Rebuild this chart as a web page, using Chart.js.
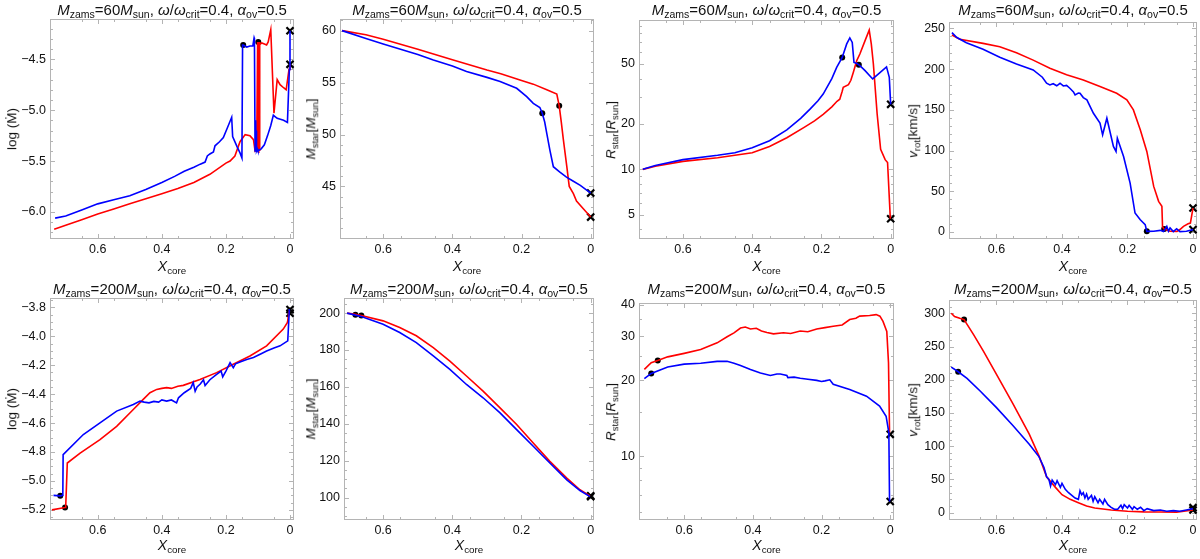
<!DOCTYPE html>
<html>
<head>
<meta charset="utf-8">
<script src="https://cdn.jsdelivr.net/npm/chart.js@4.4.1/dist/chart.umd.min.js"></script>
<style>
  body { margin: 0; background: #fff; width: 1200px; height: 559px; overflow: hidden; position: relative;
         font-family: 'Liberation Sans', Arial, sans-serif; color: #111; }
  .cell { position: absolute; width: 300px; }
  .lab { position: absolute; white-space: nowrap; line-height: 1; }
  .title { font-size: 15px; transform: translateX(-50%); }
  .ylab { font-size: 13.5px; transform: translate(-50%, -50%) rotate(-90deg); }
  .xlab { font-size: 14px; transform: translateX(-50%); }
  sub { font-size: 70%; vertical-align: -0.3em; line-height: 0; }
</style>
</head>
<body>
<script>
// tick labels
const xTickValues = [0, 0.2, 0.4, 0.6];
const mdot60Ticks = [-6.0, -5.5, -5.0, -4.5];
const mstar60Ticks = [45, 50, 55, 60];
const rstar60Ticks = [5, 10, 20, 50];
const vrot60Ticks = [0, 50, 100, 150, 200, 250];
const mdot200Ticks = [-5.2, -5.0, -4.8, -4.6, -4.4, -4.2, -4.0, -3.8];
const mstar200Ticks = [100, 120, 140, 160, 180, 200];
const rstar200Ticks = [10, 20, 30, 40];
const vrot200Ticks = [0, 50, 100, 150, 200, 250, 300];

// ---- 60 Msun : log Mdot ----
const mdot60BlueX = [0.733, 0.70, 0.65, 0.60, 0.55, 0.50, 0.45, 0.40, 0.36, 0.33, 0.30, 0.28, 0.265, 0.258, 0.25, 0.239, 0.234, 0.22, 0.208, 0.195, 0.182, 0.179, 0.165, 0.156, 0.150, 0.148, 0.146, 0.135, 0.125, 0.116, 0.112, 0.111, 0.109, 0.107, 0.106, 0.105, 0.104, 0.102, 0.100, 0.090, 0.080, 0.070, 0.060, 0.052, 0.040, 0.030, 0.020, 0.008, 0.002, 0.0];
const mdot60BlueY = [-6.06, -6.04, -5.98, -5.92, -5.88, -5.84, -5.78, -5.71, -5.65, -5.60, -5.56, -5.53, -5.51, -5.45, -5.43, -5.41, -5.35, -5.31, -5.27, -5.17, -5.07, -5.26, -5.36, -5.42, -5.47, -4.36, -4.36, -4.38, -4.37, -4.37, -4.29, -4.30, -5.40, -5.10, -5.40, -5.20, -5.40, -5.38, -5.40, -5.38, -5.34, -5.25, -5.15, -5.05, -5.08, -5.09, -5.10, -5.12, -4.60, -4.22];
const mdot60RedX = [0.736, 0.70, 0.65, 0.60, 0.55, 0.50, 0.45, 0.40, 0.35, 0.30, 0.25, 0.20, 0.187, 0.172, 0.156, 0.140, 0.125, 0.114, 0.109, 0.104, 0.101, 0.100, 0.099, 0.098, 0.097, 0.096, 0.095, 0.094, 0.092, 0.088, 0.080, 0.073, 0.068, 0.060, 0.050, 0.040, 0.031, 0.020, 0.012, 0.003, 0.0];
const mdot60RedY = [-6.17, -6.13, -6.075, -6.02, -5.97, -5.92, -5.87, -5.82, -5.77, -5.71, -5.63, -5.52, -5.50, -5.45, -5.31, -5.24, -5.25, -5.29, -5.40, -5.38, -4.33, -5.40, -4.35, -4.34, -5.42, -4.33, -5.40, -4.35, -4.35, -4.34, -4.35, -4.36, -4.33, -4.21, -5.03, -4.70, -4.75, -4.78, -4.80, -4.60, -4.55];
const mdot60DotX = [0.146, 0.099];
const mdot60DotY = [-4.36, -4.33];
const mdot60EndY = [-4.22, -4.55];

// ---- 60 Msun : M_star ----
const mstar60BlueX = [0.719, 0.65, 0.60, 0.50, 0.455, 0.40, 0.359, 0.30, 0.262, 0.214, 0.185, 0.166, 0.147, 0.140, 0.133, 0.127, 0.118, 0.108, 0.09, 0.07, 0.05, 0.03, 0.0];
const mstar60BlueY = [60, 59.25, 58.72, 57.7, 57.18, 56.6, 56.06, 55.5, 55.1, 54.45, 53.65, 53.0, 52.6, 52.05, 51.2, 50.1, 48.5, 46.9, 46.4, 45.9, 45.5, 45.1, 44.36];
const mstar60RedX = [0.719, 0.65, 0.60, 0.50, 0.40, 0.30, 0.26, 0.20, 0.166, 0.127, 0.098, 0.091, 0.085, 0.079, 0.074, 0.069, 0.065, 0.062, 0.05, 0.041, 0.02, 0.0];
const mstar60RedY = [60, 59.6, 59.17, 58.2, 57.2, 56.2, 55.85, 55.2, 54.85, 54.3, 53.9, 52.76, 51.2, 49.5, 48.2, 46.9, 45.8, 45.0, 44.3, 43.6, 42.8, 42.05];
const mstar60DotX = [0.140, 0.091];
const mstar60DotY = [52.05, 52.76];
const mstar60EndY = [44.36, 42.05];

// ---- 60 Msun : R_star ----
const rstar60BlueX = [0.716, 0.68, 0.60, 0.50, 0.45, 0.40, 0.35, 0.30, 0.26, 0.233, 0.21, 0.195, 0.17, 0.156, 0.140, 0.127, 0.118, 0.111, 0.106, 0.098, 0.089, 0.074, 0.052, 0.036, 0.012, 0.004, 0.0];
const rstar60BlueY = [10, 10.6, 11.6, 12.4, 12.9, 13.9, 15.5, 18.3, 21.8, 25.1, 28.5, 31.6, 40, 47.5, 55.3, 68, 74.6, 69.6, 51.3, 50.5, 48.8, 45.2, 39.8, 42.9, 47.9, 40.8, 27];
const rstar60RedX = [0.716, 0.68, 0.60, 0.50, 0.40, 0.35, 0.30, 0.25, 0.22, 0.195, 0.17, 0.155, 0.147, 0.140, 0.137, 0.122, 0.115, 0.108, 0.098, 0.089, 0.074, 0.062, 0.056, 0.050, 0.039, 0.029, 0.016, 0.009, 0.001];
const rstar60RedY = [10, 10.5, 11.3, 11.95, 12.9, 14.2, 16.2, 19.0, 21.0, 23.2, 26.0, 28.3, 29.2, 33, 35.0, 36.5, 39, 44.0, 52.7, 58.3, 71.5, 84, 68, 50, 23.2, 13.6, 11.6, 11.1, 4.7];
const rstar60DotX = [0.140, 0.092];
const rstar60DotY = [55.3, 49.5];
const rstar60EndY = [27, 4.7];

// ---- 60 Msun : v_rot ----
const vrot60BlueX = [0.736, 0.722, 0.692, 0.641, 0.590, 0.539, 0.488, 0.46, 0.447, 0.437, 0.427, 0.416, 0.406, 0.396, 0.386, 0.376, 0.365, 0.360, 0.350, 0.345, 0.335, 0.324, 0.304, 0.284, 0.276, 0.263, 0.243, 0.235, 0.231, 0.212, 0.192, 0.177, 0.161, 0.146, 0.141, 0.12, 0.10, 0.09, 0.08, 0.075, 0.07, 0.06, 0.05, 0.04, 0.02, 0.0];
const vrot60BlueY = [244.7, 239, 232.4, 224.3, 214.5, 206.3, 199, 190, 182.6, 180.5, 182, 179.5, 182.6, 179.3, 180, 176.5, 172, 168.3, 170.5, 170.3, 165, 162.2, 145.8, 133.6, 119.3, 139.7, 105, 98.9, 115.2, 92.7, 60, 23.3, 15.1, 9, 0.8, 1, 2, 0.5, 7, 1, 5, 0.5, 4, 0.5, 1, 2.9];
const vrot60RedX = [0.736, 0.712, 0.641, 0.590, 0.539, 0.488, 0.437, 0.386, 0.335, 0.284, 0.233, 0.202, 0.182, 0.161, 0.141, 0.12, 0.105, 0.095, 0.093, 0.088, 0.07, 0.049, 0.04, 0.029, 0.015, 0.008, 0.0];
const vrot60RedY = [241.8, 236.5, 231.6, 227.5, 220, 211, 201, 193, 186.7, 178.5, 170.3, 162.2, 149.9, 125.4, 98.9, 56, 37.6, 31.5, 6.1, 3.7, 1, 0.8, 3, 6.9, 10, 11, 29.4];
const vrot60DotX = [0.141, 0.088];
const vrot60DotY = [0.8, 3.7];
const vrot60EndY = [2.9, 29.4];

// ---- 200 Msun : log Mdot ----
const mdot200BlueX = [0.738, 0.717, 0.709, 0.708, 0.645, 0.593, 0.541, 0.489, 0.468, 0.455, 0.44, 0.425, 0.41, 0.40, 0.385, 0.37, 0.354, 0.348, 0.33, 0.31, 0.302, 0.296, 0.29, 0.28, 0.27, 0.265, 0.25, 0.229, 0.215, 0.21, 0.20, 0.187, 0.177, 0.17, 0.156, 0.135, 0.114, 0.09, 0.073, 0.05, 0.031, 0.007, 0.002];
const mdot200BlueY = [-5.10, -5.103, -5.10, -4.818, -4.679, -4.598, -4.517, -4.471, -4.448, -4.455, -4.46, -4.45, -4.455, -4.44, -4.448, -4.44, -4.46, -4.425, -4.39, -4.36, -4.32, -4.38, -4.35, -4.33, -4.30, -4.34, -4.30, -4.263, -4.24, -4.28, -4.24, -4.182, -4.217, -4.19, -4.177, -4.16, -4.147, -4.12, -4.101, -4.08, -4.066, -4.031, -3.812];
const mdot200RedX = [0.743, 0.702, 0.700, 0.695, 0.655, 0.593, 0.541, 0.489, 0.458, 0.437, 0.416, 0.40, 0.385, 0.37, 0.35, 0.333, 0.281, 0.229, 0.177, 0.125, 0.073, 0.021, 0.008, 0.002];
const mdot200RedY = [-5.20, -5.184, -5.18, -4.876, -4.807, -4.714, -4.622, -4.506, -4.436, -4.39, -4.367, -4.36, -4.355, -4.36, -4.345, -4.339, -4.298, -4.251, -4.193, -4.136, -4.066, -3.95, -3.904, -3.823];
const mdot200DotX = [0.717, 0.702];
const mdot200DotY = [-5.103, -5.184];
const mdot200EndY = [-3.815, -3.84];

// ---- 200 Msun : M_star ----
const mstar200BlueX = [0.704, 0.680, 0.663, 0.60, 0.552, 0.504, 0.455, 0.407, 0.359, 0.311, 0.262, 0.214, 0.166, 0.118, 0.069, 0.031, 0.002];
const mstar200BlueY = [200, 198.9, 198.2, 194, 189.5, 184, 176.8, 169.5, 161.3, 154.1, 145.9, 136.8, 127.8, 118.7, 109.6, 103.8, 100.5];
const mstar200RedX = [0.704, 0.680, 0.663, 0.60, 0.552, 0.504, 0.455, 0.407, 0.359, 0.311, 0.262, 0.214, 0.166, 0.118, 0.069, 0.031, 0.002];
const mstar200RedY = [200, 199.3, 198.7, 195.8, 192.2, 187.7, 181.3, 174.0, 165.9, 157.7, 148.6, 139.6, 129.6, 119.6, 110.5, 104.2, 100.9];
const mstar200DotX = [0.680, 0.663];
const mstar200DotY = [199.1, 198.7];
const mstar200EndY = [100.5, 100.9];

// ---- 200 Msun : R_star ----
const rstar200BlueX = [0.716, 0.696, 0.648, 0.60, 0.552, 0.504, 0.475, 0.455, 0.436, 0.407, 0.378, 0.349, 0.33, 0.32, 0.301, 0.298, 0.28, 0.262, 0.24, 0.214, 0.2, 0.19, 0.176, 0.166, 0.118, 0.069, 0.031, 0.012, 0.004, 0.002];
const rstar200BlueY = [20.3, 21.3, 22.6, 23.2, 23.4, 23.8, 23.8, 23.4, 22.9, 22.1, 21.4, 20.9, 21.2, 21.2, 20.9, 20.5, 20.6, 20.4, 20.2, 20.0, 19.8, 19.9, 20.1, 19.3, 18.4, 17.3, 15.8, 14.4, 12.4, 6.6];
const rstar200RedX = [0.716, 0.696, 0.677, 0.648, 0.60, 0.552, 0.504, 0.475, 0.455, 0.436, 0.422, 0.407, 0.39, 0.375, 0.359, 0.34, 0.311, 0.29, 0.262, 0.24, 0.214, 0.19, 0.166, 0.14, 0.118, 0.1, 0.089, 0.06, 0.041, 0.03, 0.021, 0.010, 0.005, 0.002];
const rstar200RedY = [22.1, 23.5, 24.0, 24.8, 25.6, 26.5, 28.2, 29.8, 30.9, 32.3, 32.6, 32.0, 32.2, 31.4, 31.0, 30.6, 30.9, 30.7, 31.4, 31.2, 32.0, 32.4, 32.8, 33.2, 34.9, 35.3, 36.0, 36.2, 36.5, 36.0, 34.3, 31.3, 23.5, 12.4];
const rstar200DotX = [0.696, 0.677];
const rstar200DotY = [21.3, 24.0];
const rstar200EndY = [6.6, 12.2];

// ---- 200 Msun : v_rot ----
const vrot200BlueX = [0.738, 0.717, 0.69, 0.65, 0.60, 0.55, 0.50, 0.47, 0.455, 0.447, 0.44, 0.435, 0.43, 0.42, 0.415, 0.405, 0.40, 0.39, 0.38, 0.37, 0.36, 0.35, 0.345, 0.34, 0.335, 0.33, 0.325, 0.32, 0.31, 0.305, 0.30, 0.29, 0.285, 0.275, 0.27, 0.26, 0.25, 0.24, 0.23, 0.22, 0.215, 0.21, 0.20, 0.195, 0.185, 0.18, 0.17, 0.16, 0.15, 0.14, 0.12, 0.10, 0.08, 0.06, 0.04, 0.02, 0.0];
const vrot200BlueY = [219, 212, 202, 183, 158, 131, 103, 84, 68, 54, 50, 40, 49, 42, 48, 38, 44, 35, 30, 26, 22, 20, 33, 27, 30, 22, 28, 20, 26, 17, 24, 15, 20, 13, 20, 12, 8, 5, 5, 11, 6, 12, 7, 11, 5, 9, 5, 8, 3, 6, 3, 4, 2, 3, 2, 4, 6];
const vrot200RedX = [0.738, 0.728, 0.71, 0.699, 0.67, 0.64, 0.60, 0.55, 0.50, 0.47, 0.447, 0.42, 0.40, 0.375, 0.35, 0.325, 0.30, 0.25, 0.20, 0.15, 0.10, 0.05, 0.0];
const vrot200RedY = [300, 295, 292, 290.5, 268, 243, 208, 164, 118, 85, 54, 38, 27, 20, 15, 10, 7, 4, 2, 1.2, 1, 0.8, 4];
const vrot200DotX = [0.717, 0.699];
const vrot200DotY = [212, 290.5];
const vrot200EndY = [4, 7.5];

function pts(xs, ys) {
    return xs.map(function (x, i) { return { x: x, y: ys[i] }; });
}
function fmt1(v) {
    return (v < 0 ? '\u2212' : '') + Math.abs(v).toFixed(1);
}
function fmtInt(v) {
    return String(v);
}

Chart.defaults.font.family = "'Liberation Sans', Arial, sans-serif";
Chart.defaults.font.size = 12.5;
Chart.defaults.color = '#111';

// frame with inward major/minor ticks like Mathematica
const frameTicks = {
    id: 'frameTicks',
    beforeDatasetsDraw(chart, args, o) {
        const ctx = chart.ctx, a = chart.chartArea;
        const xs = chart.scales.x, ys = chart.scales.y;
        ctx.save();
        ctx.strokeStyle = '#b4b4b4';
        ctx.lineWidth = 1;
        ctx.strokeRect(a.left + 0.5, a.top + 0.5, a.right - a.left - 1, a.bottom - a.top - 1);
        function tx(v, len) {
            const p = Math.round(xs.getPixelForValue(v)) + 0.5;
            if (p < a.left || p > a.right) return;
            ctx.moveTo(p, a.bottom); ctx.lineTo(p, a.bottom - len);
            ctx.moveTo(p, a.top); ctx.lineTo(p, a.top + len);
        }
        function ty(v, len) {
            const p = Math.round(ys.getPixelForValue(v)) + 0.5;
            if (p < a.top || p > a.bottom) return;
            ctx.moveTo(a.left, p); ctx.lineTo(a.left + len, p);
            ctx.moveTo(a.right, p); ctx.lineTo(a.right - len, p);
        }
        ctx.beginPath();
        xTickValues.forEach(function (v) { tx(v, 5); });
        for (let v = 0.05; v < 0.75; v += 0.1) tx(v, 3);
        o.yMajor.forEach(function (v) { ty(v, 5); });
        o.yMinor.forEach(function (v) { ty(v, 3); });
        ctx.stroke();
        ctx.restore();
    }
};

function minorSteps(lo, hi, step, majors) {
    const out = [];
    for (let v = Math.ceil(lo / step) * step; v <= hi; v += step) {
        const r = Math.round(v / step) * step;
        if (!majors.some(function (m) { return Math.abs(m - r) < step / 10; })) out.push(r);
    }
    return out;
}

function addLabel(cls, html, left, top) {
    const d = document.createElement('div');
    d.className = 'lab ' + cls;
    d.innerHTML = html;
    d.style.left = left + 'px';
    d.style.top = top + 'px';
    document.body.appendChild(d);
}

const ylabMdot = 'log (\u1E40)';
const ylabMstar = '<i>M</i><sub>star</sub>[<i>M</i><sub>sun</sub>]';
const ylabRstar = '<i>R</i><sub>star</sub>[<i>R</i><sub>sun</sub>]';
const ylabVrot = '<i>v</i><sub>rot</sub>[km/s]';
function titleFor(m) {
    return '<i>M</i><sub>zams</sub>=' + m + '<i>M</i><sub>sun</sub>, <i>\u03c9</i>/<i>\u03c9</i><sub>crit</sub>=0.4, <i>\u03b1</i><sub>ov</sub>=0.5';
}

function makePanel(p) {
    const cellH = p.row === 0 ? 279 : 280;
    const cx = p.col * 300, cy = p.row * 279;
    const cell = document.createElement('div');
    cell.className = 'cell';
    cell.style.left = cx + 'px';
    cell.style.top = cy + 'px';
    cell.style.height = cellH + 'px';
    const cv = document.createElement('canvas');
    cell.appendChild(cv);
    document.body.appendChild(cell);

    const f = p.frame; // [left, top, right, bottom] inside the cell
    new Chart(cv, {
        type: 'scatter',
        data: {
            datasets: [
                { data: pts(p.blue[0], p.blue[1]), showLine: true, borderColor: '#0000ff', borderWidth: 1.6, pointRadius: 0, tension: 0 },
                { data: pts(p.red[0], p.red[1]), showLine: true, borderColor: '#ff0000', borderWidth: 1.6, pointRadius: 0, tension: 0 },
                { data: pts(p.dots[0], p.dots[1]), pointRadius: 3, backgroundColor: '#000', borderWidth: 0, clip: false },
                { data: p.ends.map(function (y) { return { x: 0, y: y }; }), pointStyle: 'crossRot', pointRadius: 5, borderColor: '#000', borderWidth: 2.2, clip: false }
            ]
        },
        options: {
            responsive: true,
            maintainAspectRatio: false,
            animation: false,
            events: [],
            layout: { autoPadding: false, padding: { left: 0, top: f[1], right: 300 - f[2], bottom: 0 } },
            plugins: {
                legend: { display: false },
                tooltip: { enabled: false },
                frameTicks: { yMajor: p.yTicks, yMinor: p.yMinor }
            },
            scales: {
                x: {
                    type: 'linear', reverse: true, min: p.xr[0], max: p.xr[1],
                    grid: { display: false, drawTicks: false, tickLength: 0 }, border: { display: false },
                    afterBuildTicks: function (s) { s.ticks = xTickValues.map(function (v) { return { value: v }; }); },
                    afterFit: function (s) { s.height = cellH - f[3]; },
                    ticks: { padding: 3, maxRotation: 0, callback: function (v) { return v === 0 ? '0' : v.toFixed(1); } }
                },
                y: {
                    type: p.log ? 'logarithmic' : 'linear', min: p.yr[0], max: p.yr[1],
                    grid: { display: false, drawTicks: false, tickLength: 0 }, border: { display: false },
                    afterBuildTicks: function (s) { s.ticks = p.yTicks.map(function (v) { return { value: v }; }); },
                    afterFit: function (s) { s.width = f[0]; },
                    ticks: { padding: 4, callback: function (v) { return p.fmt(v); } }
                }
            }
        },
        plugins: [frameTicks]
    });

    const mid = cx + (f[0] + f[2]) / 2;
    addLabel('title', titleFor(p.mass), mid, cy + 2);
    addLabel('ylab', p.ylab, cx + p.ylabX, cy + (f[1] + f[3]) / 2);
    addLabel('xlab', '<i>X</i><sub>core</sub>', mid, cy + 259);
}

makePanel({ row: 0, col: 0, mass: 60, frame: [50, 19, 294, 239], xr: [-0.0125, 0.749], yr: [-6.265, -4.105],
    yTicks: mdot60Ticks, yMinor: minorSteps(-6.265, -4.105, 0.1, mdot60Ticks), fmt: fmt1, ylab: ylabMdot, ylabX: 12,
    blue: [mdot60BlueX, mdot60BlueY], red: [mdot60RedX, mdot60RedY], dots: [mdot60DotX, mdot60DotY], ends: mdot60EndY });
makePanel({ row: 0, col: 1, mass: 60, frame: [40, 19, 294, 239], xr: [-0.0096, 0.725], yr: [39.94, 61.12],
    yTicks: mstar60Ticks, yMinor: minorSteps(39.94, 61.12, 1, mstar60Ticks), fmt: fmtInt, ylab: ylabMstar, ylabX: 11,
    blue: [mstar60BlueX, mstar60BlueY], red: [mstar60RedX, mstar60RedY], dots: [mstar60DotX, mstar60DotY], ends: mstar60EndY });
makePanel({ row: 0, col: 2, mass: 60, log: true, frame: [39, 20, 294, 239], xr: [-0.0096, 0.727], yr: [3.45, 98],
    yTicks: rstar60Ticks, yMinor: [4, 6, 7, 8, 9, 30, 40, 60, 70, 80, 90], fmt: fmtInt, ylab: ylabRstar, ylabX: 11,
    blue: [rstar60BlueX, rstar60BlueY], red: [rstar60RedX, rstar60RedY], dots: [rstar60DotX, rstar60DotY], ends: rstar60EndY });
makePanel({ row: 0, col: 3, mass: 60, frame: [49, 22, 297, 239], xr: [-0.0122, 0.745], yr: [-8.6, 257.8],
    yTicks: vrot60Ticks, yMinor: minorSteps(-8.6, 257.8, 10, vrot60Ticks), fmt: fmtInt, ylab: ylabVrot, ylabX: 13,
    blue: [vrot60BlueX, vrot60BlueY], red: [vrot60RedX, vrot60RedY], dots: [vrot60DotX, vrot60DotY], ends: vrot60EndY });

makePanel({ row: 1, col: 0, mass: 200, frame: [50, 19, 294, 241], xr: [-0.0125, 0.749], yr: [-5.27, -3.735],
    yTicks: mdot200Ticks, yMinor: minorSteps(-5.27, -3.735, 0.05, mdot200Ticks), fmt: fmt1, ylab: ylabMdot, ylabX: 12,
    blue: [mdot200BlueX, mdot200BlueY], red: [mdot200RedX, mdot200RedY], dots: [mdot200DotX, mdot200DotY], ends: mdot200EndY });
makePanel({ row: 1, col: 1, mass: 200, frame: [44, 19, 294, 241], xr: [-0.0096, 0.713], yr: [87.8, 208.2],
    yTicks: mstar200Ticks, yMinor: minorSteps(87.8, 208.2, 5, mstar200Ticks), fmt: fmtInt, ylab: ylabMstar, ylabX: 11,
    blue: [mstar200BlueX, mstar200BlueY], red: [mstar200RedX, mstar200RedY], dots: [mstar200DotX, mstar200DotY], ends: mstar200EndY });
makePanel({ row: 1, col: 2, mass: 200, log: true, frame: [39, 24, 294, 241], xr: [-0.011, 0.7316], yr: [5.57, 40.6],
    yTicks: rstar200Ticks, yMinor: [6, 7, 8, 9, 15, 25, 35], fmt: fmtInt, ylab: ylabRstar, ylabX: 11,
    blue: [rstar200BlueX, rstar200BlueY], red: [rstar200RedX, rstar200RedY], dots: [rstar200DotX, rstar200DotY], ends: rstar200EndY });
makePanel({ row: 1, col: 3, mass: 200, frame: [49, 21, 297, 241], xr: [-0.0122, 0.745], yr: [-11.1, 320],
    yTicks: vrot200Ticks, yMinor: minorSteps(-11.1, 320, 10, vrot200Ticks), fmt: fmtInt, ylab: ylabVrot, ylabX: 13,
    blue: [vrot200BlueX, vrot200BlueY], red: [vrot200RedX, vrot200RedY], dots: [vrot200DotX, vrot200DotY], ends: vrot200EndY });
</script>
</body>
</html>
